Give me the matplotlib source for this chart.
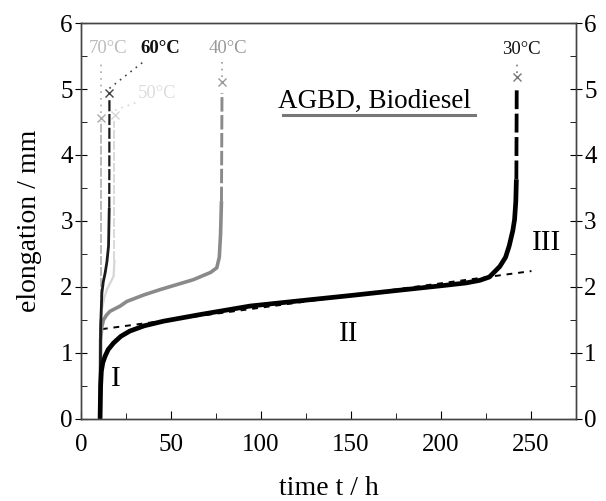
import matplotlib
matplotlib.use("Agg")
import matplotlib.pyplot as plt
from matplotlib.ticker import MultipleLocator

plt.rcParams['font.family'] = ['Liberation Serif', 'DejaVu Serif']

# creep curves: time (h), elongation (mm)
t30 = [10.5, 10.8, 11.2, 12, 13.3, 15, 18, 22, 27, 35, 45.7, 66, 94, 121.7, 150,
       177, 201, 214, 221.7, 227, 232.8, 236, 238, 240, 241, 241.7, 242, 242.2]
e30 = [0.0, 0.5, 0.72, 0.85, 0.95, 1.05, 1.15, 1.25, 1.33, 1.41, 1.48, 1.58, 1.71, 1.79, 1.87,
       1.95, 2.02, 2.06, 2.10, 2.15, 2.31, 2.45, 2.62, 2.85, 3.02, 3.3, 3.63, 4.98]
t40 = [10.5, 10.8, 11.5, 12.4, 14, 16, 21.7, 25.4, 35, 44, 62.4, 72, 75.4, 76.8, 77.5, 78, 78.3]
e40 = [0.0, 1.2, 1.4, 1.5, 1.57, 1.63, 1.71, 1.78, 1.88, 1.96, 2.11, 2.22, 2.29, 2.45, 2.8, 3.3, 4.94]
t50 = [10.5, 10.8, 11.5, 13, 14.3, 16.5, 18, 18.5, 18.5]
e50 = [0.0, 1.3, 1.66, 1.85, 1.96, 2.08, 2.16, 2.41, 4.51]
t60 = [10.5, 10.8, 11.5, 12.3, 13.3, 14.3, 15.2, 15.6, 15.7]
e60 = [0.0, 1.4, 1.91, 2.08, 2.21, 2.38, 2.62, 3.2, 4.84]
t70 = [10.5, 10.9, 10.9]
e70 = [0.0, 1.5, 4.52]

# linear fit of secondary creep (II)
fit_t = [11.5, 250.4]
fit_e = [1.36, 2.24]

# failure points and their labels
fail_t = [242.2, 78.5, 18.8, 15.7, 10.9]
fail_e = [5.18, 5.11, 4.61, 4.94, 4.56]
temps = ['30°C', '40°C', '50°C', '60°C', '70°C']
lab_t = [244.8, 81.8, 42.4, 44.0, 15.0]
lab_e = [5.6, 5.62, 4.93, 5.62, 5.62]
link_t = [242.2, 78.5, 31.0, 34.0, 10.9]
link_e = [5.42, 5.42, 4.80, 5.40, 5.42]
colors = ['#000000', '#8a8a8a', '#d6d6d6', '#1a1a1a', '#b4b4b4']
tcolors = ['#111111', '#999999', '#dddddd', '#111111', '#bbbbbb']
mcolors = ['#777777', '#999999', '#d6d6d6', '#444444', '#aaaaaa']
widths = [3.4, 2.6, 1.6, 2.0, 1.6]
series = [(t30, e30), (t40, e40), (t50, e50), (t60, e60), (t70, e70)]

fig = plt.figure(figsize=(6.06, 5.01), dpi=100)
ax = fig.add_axes([0.134, 0.164, 0.816, 0.79])

ax.plot(fit_t, fit_e, color='black', lw=1.4, ls=(0, (3, 3)))

for i in [4, 2, 1, 3, 0]:
    t, e = series[i]
    ax.plot(t[:-1], e[:-1], color=colors[i], lw=widths[i], solid_capstyle='butt')
    # final run to rupture is sparsely sampled in the original
    ax.plot(t[-2:], e[-2:], color=colors[i], lw=widths[i] * 0.8, ls=(0, (5, 1.2)))

for i in range(len(temps)):
    ax.plot(fail_t[i], fail_e[i], 'x', color=mcolors[i], ms=6, mew=1.0)
    ax.plot([fail_t[i], link_t[i]], [fail_e[i] + 0.07, link_e[i]],
            color=mcolors[i], lw=1.2, ls=(0, (1, 3)))
    ax.text(lab_t[i], lab_e[i], temps[i], color=tcolors[i],
            fontsize=13.5, ha='center', va='center',
            fontweight='bold' if i == 3 else 'normal')

ax.text(163, 4.72, 'AGBD, Biodiesel', fontsize=19.5, ha='center', va='baseline')
ax.plot([0.408, 0.796], [0.768, 0.768], transform=ax.transAxes, color='#777777', lw=2.2)

ax.text(19, 0.6, 'I', fontsize=21, ha='center', va='center')
ax.text(149, 1.28, 'II', fontsize=21, ha='center', va='center')
ax.text(259, 2.67, 'III', fontsize=21, ha='center', va='center')

ax.set_xlim(0, 275)
ax.set_ylim(0, 6)
ax.xaxis.set_major_locator(MultipleLocator(50))
ax.xaxis.set_minor_locator(MultipleLocator(25))
ax.yaxis.set_major_locator(MultipleLocator(1))
ax.yaxis.set_minor_locator(MultipleLocator(0.5))
ax.tick_params(axis='x', which='major', direction='in', length=6, labelsize=18, pad=11)
ax.tick_params(axis='x', which='minor', direction='in', length=4)
ax.tick_params(axis='y', which='major', direction='inout', length=8, labelsize=18, pad=2)
ax.tick_params(axis='y', which='minor', direction='in', length=4)
ax.set_xlabel('time t / h', fontsize=20, labelpad=14)
ax.set_ylabel('elongation / mm', fontsize=20, labelpad=13)

ax2 = ax.twinx()
ax2.set_ylim(0, 6)
ax2.yaxis.set_major_locator(MultipleLocator(1))
ax2.yaxis.set_minor_locator(MultipleLocator(0.5))
ax2.tick_params(axis='y', which='major', direction='inout', length=8, labelsize=18, pad=2)
ax2.tick_params(axis='y', which='minor', direction='in', length=4)

for a in (ax, ax2):
    for s in a.spines.values():
        s.set_color('#444444')
        s.set_linewidth(1.0)

fig.savefig('out.png', dpi=100)
